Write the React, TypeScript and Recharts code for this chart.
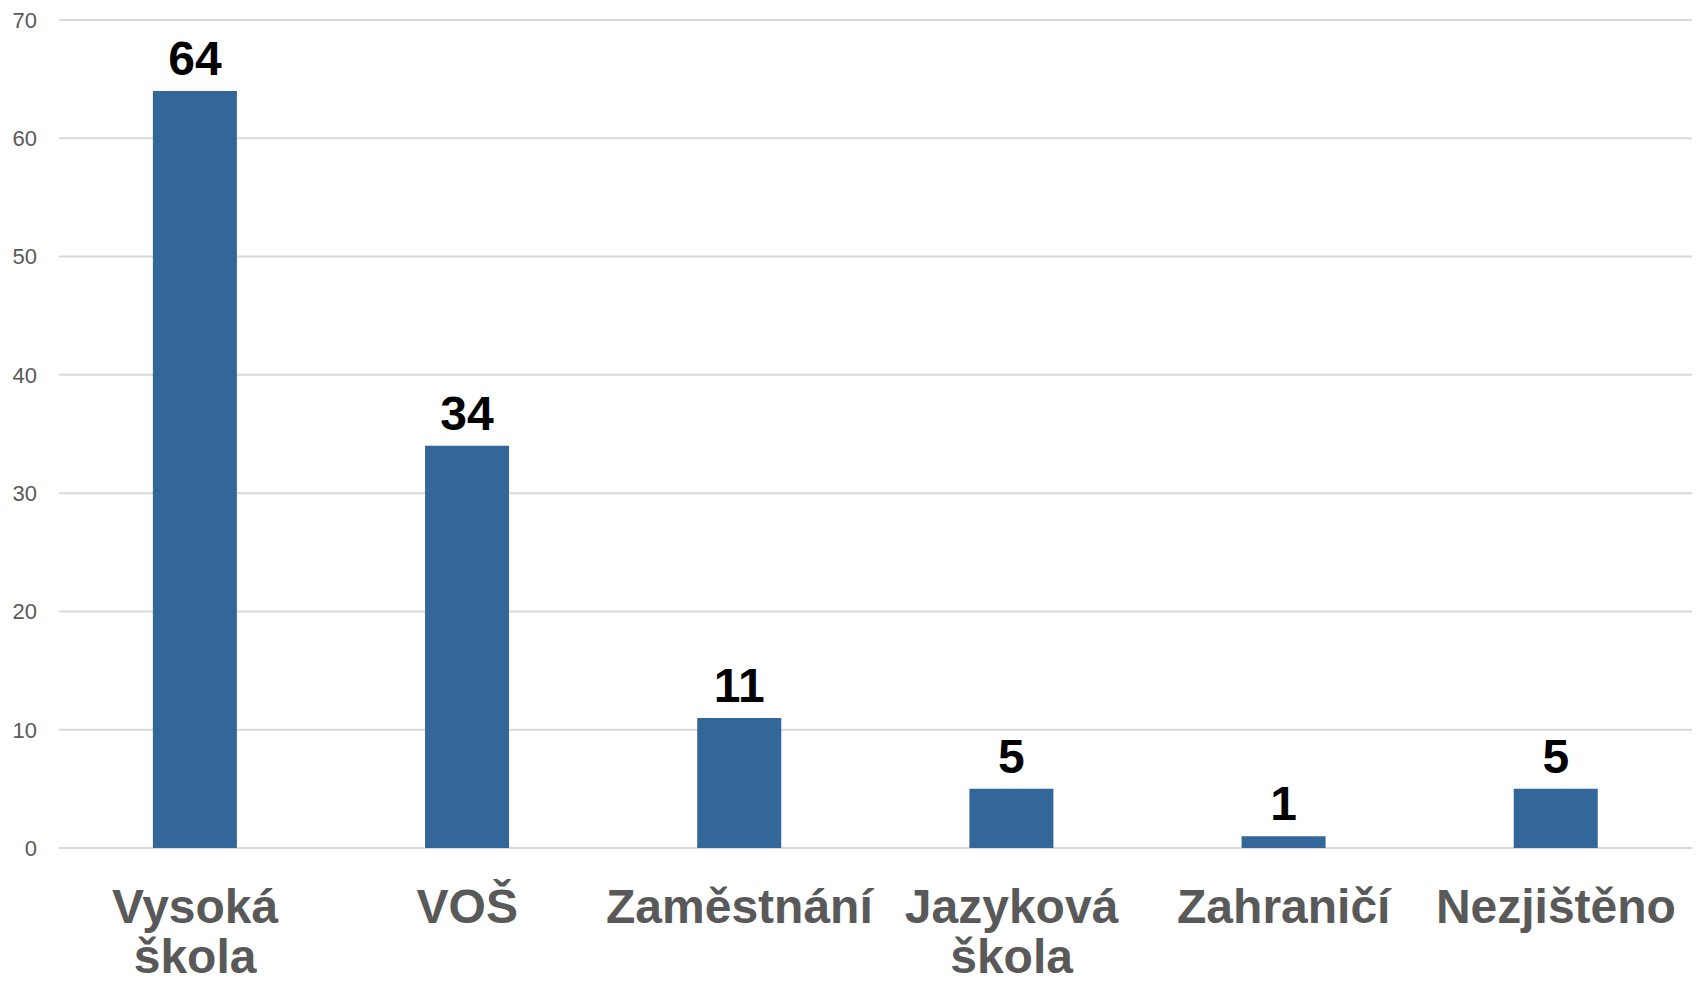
import { BarChart, Bar, XAxis, YAxis, CartesianGrid, LabelList } from "recharts";

const categories = ["Vysoká škola", "VOŠ", "Zaměstnání", "Jazyková škola", "Zahraničí", "Nezjištěno"];
const counts = [64, 34, 11, 5, 1, 5];
const yTicks = [0, 10, 20, 30, 40, 50, 60, 70];

const data = categories.map((name, i) => ({ name, value: counts[i] }));

const FONT = "'Liberation Sans', Arial, sans-serif";

// category labels wrap on the space, like the original
function CategoryTick(props: any) {
  const { x, y, payload } = props;
  const lines = String(payload.value).split(" ");
  return (
    <text x={x} y={y} textAnchor="middle" fill="#595959" fontFamily={FONT} fontSize={48} fontWeight="bold">
      {lines.map((line, i) => (
        <tspan key={i} x={x} dy={i === 0 ? 67 : 50}>
          {line}
        </tspan>
      ))}
    </text>
  );
}

export default function App() {
  return (
    <div style={{ position: "absolute", left: 0, top: 0, background: "#fff" }}>
      <BarChart
        width={1696}
        height={981}
        data={data}
        margin={{ top: 20, right: 4, bottom: 0, left: 0 }}
        barCategoryGap="34.5%"
      >
        <CartesianGrid vertical={false} stroke="#d9d9d9" strokeWidth={2} />
        <XAxis
          dataKey="name"
          axisLine={false}
          tickLine={false}
          height={133}
          interval={0}
          tick={<CategoryTick />}
        />
        <YAxis
          domain={[0, 70]}
          ticks={yTicks}
          width={59}
          axisLine={false}
          tickLine={false}
          tickMargin={16}
          tick={{ fill: "#595959", fontSize: 22, fontFamily: FONT }}
        />
        <Bar dataKey="value" fill="#336699" isAnimationActive={false}>
          <LabelList
            dataKey="value"
            position="top"
            offset={16}
            fill="#000"
            fontSize={48}
            fontWeight="bold"
            fontFamily={FONT}
          />
        </Bar>
      </BarChart>
    </div>
  );
}
